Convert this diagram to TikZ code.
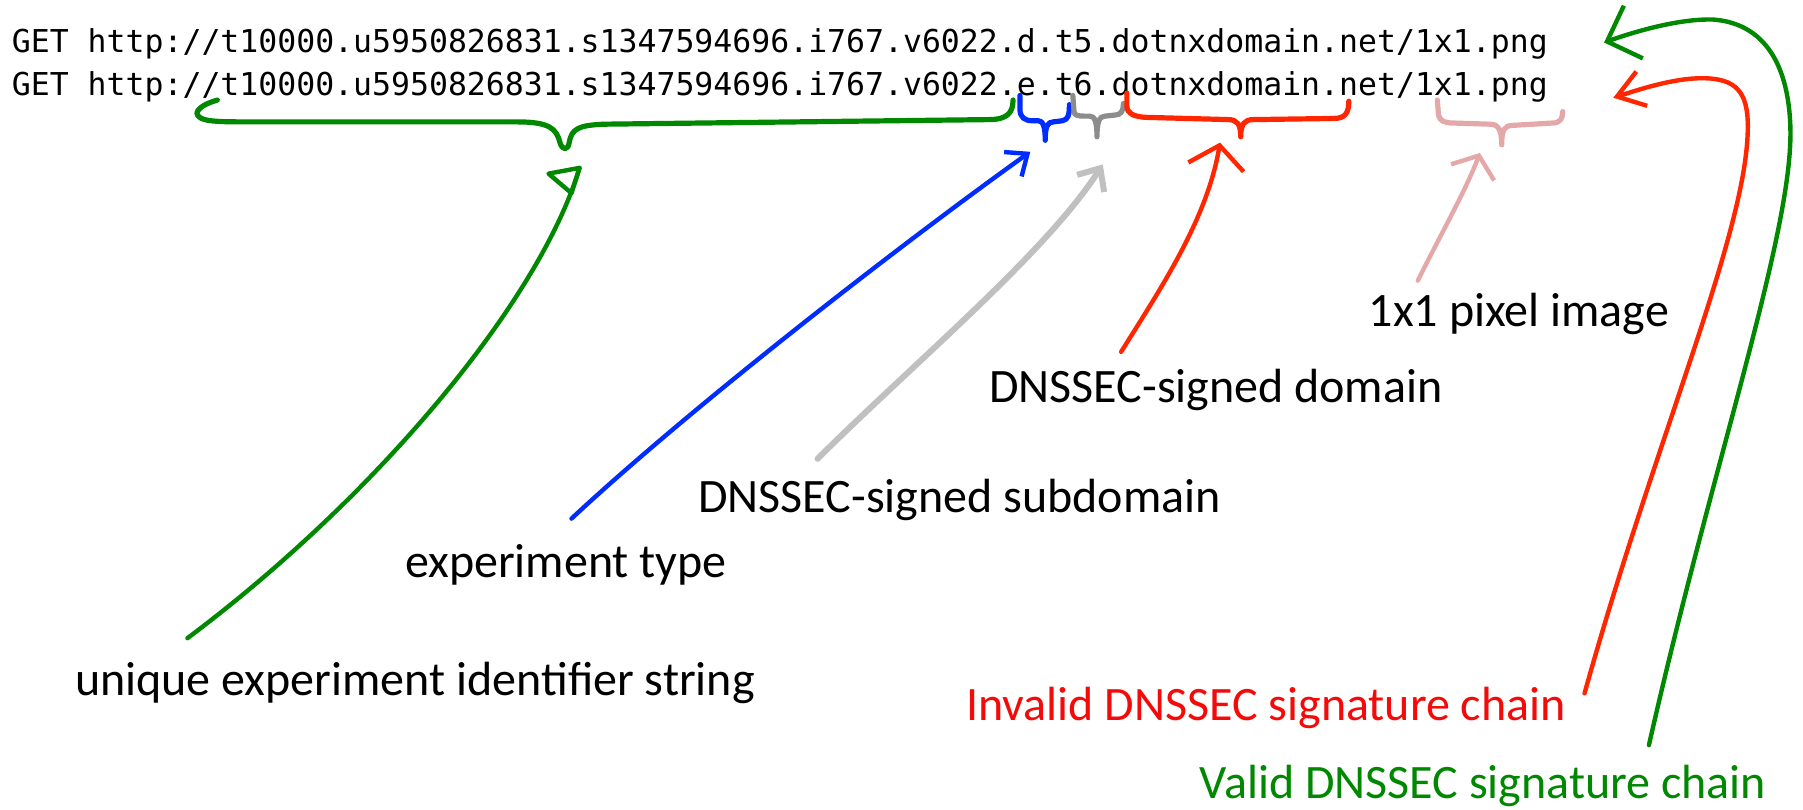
\documentclass[tikz,border=0pt]{standalone}
\usepackage{fontspec}
\setmainfont{Carlito}
\newfontfamily\urlfont{DejaVu Sans Mono}
\usetikzlibrary{arrows.meta}
\definecolor{cgreen}{RGB}{0,136,0}
\definecolor{cblue}{RGB}{0,45,255}
\definecolor{cred}{RGB}{255,38,0}
\definecolor{ctred}{RGB}{245,10,10}
\definecolor{cgrayd}{RGB}{140,140,140}
\definecolor{cgrayl}{RGB}{192,192,192}
\definecolor{cpink}{RGB}{228,168,168}
\begin{document}
\begin{tikzpicture}[x=0.575pt,y=-0.575pt,line cap=round,line join=round,
  lbl/.style={anchor=base west,inner sep=0pt,font=\fontsize{24}{28}\selectfont},
  urltext/.style={anchor=base west,inner sep=0pt,font=\urlfont\fontsize{15.75}{19}\selectfont},
  brace/.style={line width=2.6pt},
  arr/.style={line width=2.2pt}]
\useasboundingbox[fill=white] (0,0) rectangle (1568,704);

% URLs
\node[urltext] (u1) at (10,46) {GET http://t10000.u5950826831.s1347594696.i767.v6022.d.t5.dotnxdomain.net/1x1.png};
\node[urltext] (u2) at (10,83) {GET http://t10000.u5950826831.s1347594696.i767.v6022.e.t6.dotnxdomain.net/1x1.png};

% labels
\node[lbl] (pix) at (1190,284) {1x1 pixel image};
\node[lbl] (dom) at (860,350) {DNSSEC-signed domain};
\node[lbl] (sub) at (607,446) {DNSSEC-signed subdomain};
\node[lbl] (typ) at (352,502) {experiment type};
\node[lbl] (uid) at (65,605) {unique experiment identifier string};
\node[lbl,text=ctred] (inv) at (840,627) {Invalid DNSSEC signature chain};
\node[lbl,text=cgreen] (val) at (1043,694) {Valid DNSSEC signature chain};

% braces
\draw[brace,cgreen] (189,87) .. controls (172,92) and (165,100) .. (178,104)
  .. controls (185,106) and (200,106) .. (220,106) -- (450,106)
  .. controls (478,106) and (484,112) .. (487,124)
  .. controls (489,131) and (494,131) .. (495,124)
  .. controls (497,112) and (503,109) .. (525,108) -- (860,104)
  .. controls (876,104) and (881,98) .. (881,87);
\draw[brace,cblue] (887,83) -- (887,95) .. controls (887,102) and (891,105) .. (898,105)
  -- (903,105) .. controls (907,105) and (909,110) .. (909,122)
  .. controls (909,110) and (911,106) .. (916,106) -- (924,105)
  .. controls (929,104) and (930,100) .. (930,91);
\draw[brace,cgrayd] (933,83) -- (934,97) .. controls (934,100) and (937,101) .. (943,101)
  -- (948,101) .. controls (952,101) and (954,106) .. (954,119)
  .. controls (954,106) and (956,101) .. (961,101) -- (970,100)
  .. controls (975,100) and (977,96) .. (977,90);
\draw[brace,cred] (980,81) -- (980,92) .. controls (980,99) and (986,101) .. (995,102)
  -- (1068,104) .. controls (1076,104) and (1079,108) .. (1079,119)
  .. controls (1079,108) and (1082,104) .. (1090,104) -- (1160,103)
  .. controls (1170,103) and (1173,98) .. (1173,88);
\draw[brace,cpink] (1250,87) -- (1251,100) .. controls (1252,105) and (1256,107) .. (1264,107)
  -- (1296,108) .. controls (1303,108) and (1306,113) .. (1306,126)
  .. controls (1306,113) and (1308,109) .. (1316,109) -- (1350,107)
  .. controls (1357,107) and (1359,103) .. (1359,97);

% connector end points
\coordinate (uidS) at (163,555);
\coordinate (uidT) at (504,146);
\coordinate (typS) at (497,451);
\coordinate (typT) at (896,132);
\coordinate (subS) at (711,399);
\coordinate (subT) at (959,143);
\coordinate (domS) at (975,306);
\coordinate (domT) at (1061,124);
\coordinate (pixS) at (1233,244);
\coordinate (pixT) at (1287,133);
\coordinate (invS) at (1378,603);
\coordinate (invT) at (1403,85);
\coordinate (valS) at (1434,648);
\coordinate (valT) at (1395,37);

% connectors
\draw[arr,cgreen] (uidS) .. controls (330,430) and (470,260) .. (uidT);
\draw[arr,cgreen] (uidT) -- ++(-27,5) -- ++(20,17) -- cycle;
\draw[arr,cblue,-{Straight Barb[length=9pt,width=15pt]}] (typS) .. controls (600,355) and (780,215) .. (typT);
\draw[line width=3pt,cgrayl,-{Straight Barb[length=9pt,width=16pt]}] (subS) .. controls (790,320) and (910,220) .. (subT);
\draw[arr,cred,-{Straight Barb[length=11pt,width=28pt]}] (domS) .. controls (1010,250) and (1050,190) .. (domT);
\draw[arr,cpink,-{Straight Barb[length=9pt,width=23pt]}] (pixS) .. controls (1255,200) and (1275,165) .. (pixT);
\draw[arr,cred,-{Straight Barb[length=13pt,width=18pt]}] (invS) .. controls (1440,380) and (1520,200) .. (1520,110)
  .. controls (1520,80) and (1510,68) .. (1480,68) .. controls (1455,68) and (1425,78) .. (invT);
\draw[arr,cgreen,-{Straight Barb[length=14pt,width=28pt]}] (valS) .. controls (1490,400) and (1560,200) .. (1557,110)
  .. controls (1555,50) and (1530,20) .. (1490,17) .. controls (1460,16) and (1420,28) .. (valT);
\end{tikzpicture}
\end{document}
